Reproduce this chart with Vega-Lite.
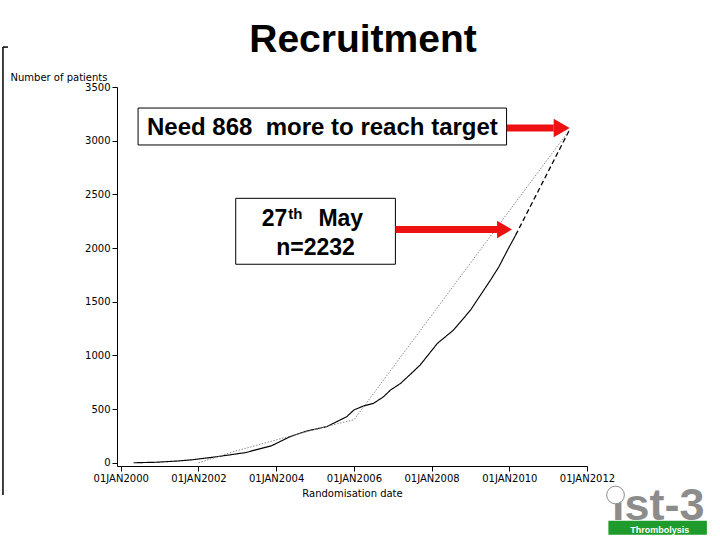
{
  "$schema": "https://vega.github.io/schema/vega-lite/v6.json",
  "width": 470,
  "height": 379,
  "autosize": {"type": "none"},
  "padding": {"left": 117, "top": 87, "right": 133, "bottom": 74},
  "background": "white",
  "data": {"values": [{}]},
  "title": {
    "text": "Recruitment",
    "font": "Liberation Sans",
    "fontSize": 39,
    "fontWeight": "bold",
    "color": "black",
    "anchor": "middle",
    "frame": "group",
    "baseline": "alphabetic",
    "offset": -45,
    "dx": 11
  },
  "config": {
    "view": {"stroke": null},
    "axis": {
      "grid": false,
      "domainColor": "black",
      "tickColor": "black",
      "labelColor": "black",
      "titleColor": "black",
      "labelFont": "DejaVu Sans",
      "labelFontSize": 10,
      "titleFont": "DejaVu Sans",
      "titleFontSize": 10,
      "titleFontWeight": "normal",
      "tickSize": 5
    }
  },
  "datasets": {
    "recruit": [
      {"date": "2000-05-01", "value": 0, "series": "Actual"},
      {"date": "2000-12-01", "value": 5, "series": "Actual"},
      {"date": "2001-06-25", "value": 17, "series": "Actual"},
      {"date": "2001-11-15", "value": 29, "series": "Actual"},
      {"date": "2002-06-05", "value": 54, "series": "Actual"},
      {"date": "2003-03-15", "value": 94, "series": "Actual"},
      {"date": "2003-11-20", "value": 159, "series": "Actual"},
      {"date": "2004-05-10", "value": 243, "series": "Actual"},
      {"date": "2004-10-15", "value": 296, "series": "Actual"},
      {"date": "2005-04-20", "value": 336, "series": "Actual"},
      {"date": "2005-10-25", "value": 429, "series": "Actual"},
      {"date": "2006-01-01", "value": 492, "series": "Actual"},
      {"date": "2006-04-01", "value": 529, "series": "Actual"},
      {"date": "2006-07-05", "value": 554, "series": "Actual"},
      {"date": "2006-10-08", "value": 616, "series": "Actual"},
      {"date": "2006-12-10", "value": 677, "series": "Actual"},
      {"date": "2007-03-15", "value": 739, "series": "Actual"},
      {"date": "2007-06-18", "value": 826, "series": "Actual"},
      {"date": "2007-09-15", "value": 910, "series": "Actual"},
      {"date": "2008-02-25", "value": 1112, "series": "Actual"},
      {"date": "2008-07-25", "value": 1236, "series": "Actual"},
      {"date": "2009-01-01", "value": 1422, "series": "Actual"},
      {"date": "2009-04-05", "value": 1562, "series": "Actual"},
      {"date": "2009-07-08", "value": 1702, "series": "Actual"},
      {"date": "2009-09-25", "value": 1826, "series": "Actual"},
      {"date": "2009-12-15", "value": 1981, "series": "Actual"},
      {"date": "2010-03-01", "value": 2120, "series": "Actual"},
      {"date": "2010-03-01", "value": 2120, "series": "Projected"},
      {"date": "2011-07-20", "value": 3100, "series": "Projected"},
      {"date": "2002-01-01", "value": 0, "series": "Target"},
      {"date": "2002-12-01", "value": 105, "series": "Target"},
      {"date": "2004-01-05", "value": 214, "series": "Target"},
      {"date": "2005-04-20", "value": 339, "series": "Target"},
      {"date": "2006-01-01", "value": 400, "series": "Target"},
      {"date": "2011-07-20", "value": 3100, "series": "Target"}
    ]
  },
  "layer": [
    {
      "data": {"name": "recruit"},
      "mark": {"type": "line"},
      "encoding": {
        "x": {
          "field": "date",
          "type": "temporal",
          "scale": {
            "type": "utc",
            "nice": false,
            "domain": [
              {"year": 1999, "month": "nov", "date": 27, "utc": true},
              {"year": 2012, "month": "jan", "date": 1, "utc": true}
            ]
          },
          "axis": {
            "title": "Randomisation date",
            "tickCount": {"interval": "year", "step": 2},
            "labelExpr": "upper(utcFormat(datum.value, '%d%b%Y'))",
            "labelPadding": 2,
            "labelFlush": false,
            "labelOverlap": false,
            "titlePadding": 5
          }
        },
        "y": {
          "field": "value",
          "type": "quantitative",
          "scale": {"domain": [-30, 3500], "nice": false, "zero": false},
          "axis": {
            "values": [0, 500, 1000, 1500, 2000, 2500, 3000, 3500],
            "format": "d",
            "labelPadding": 2,
            "title": "Number of patients",
            "titleAngle": 0,
            "titleAlign": "left",
            "titleBaseline": "alphabetic",
            "titleX": -107,
            "titleY": -7
          }
        },
        "color": {
          "field": "series",
          "type": "nominal",
          "scale": {"domain": ["Target", "Actual", "Projected"], "range": ["#8a8a8a", "black", "black"]},
          "legend": null
        },
        "strokeDash": {
          "field": "series",
          "type": "nominal",
          "scale": {"domain": ["Target", "Actual", "Projected"], "range": [[1.5, 1.5], [1, 0], [5, 3]]},
          "legend": null
        },
        "strokeWidth": {
          "field": "series",
          "type": "nominal",
          "scale": {"domain": ["Target", "Actual", "Projected"], "range": [1, 1.3, 2]},
          "legend": null
        },
        "order": {"field": "date", "type": "temporal"}
      }
    },
    {
      "mark": {"type": "rect", "fill": "white", "stroke": "black", "strokeWidth": 1},
      "encoding": {
        "x": {"datum": {"year": 2000, "month": "jun", "date": 12, "utc": true}, "type": "temporal"},
        "x2": {"datum": {"year": 2009, "month": "dec", "date": 6, "utc": true}},
        "y": {"datum": 3304, "type": "quantitative"},
        "y2": {"datum": 2960}
      }
    },
    {
      "mark": {"type": "text", "text": "Need 868\u00a0 more to reach target", "font": "Liberation Sans", "fontSize": 24, "fontWeight": "bold", "color": "black", "align": "center", "baseline": "alphabetic"},
      "encoding": {
        "x": {"datum": {"year": 2005, "month": "mar", "date": 11, "utc": true}, "type": "temporal"},
        "y": {"datum": 3050, "type": "quantitative"}
      }
    },
    {
      "mark": {"type": "rect", "fill": "white", "stroke": "black", "strokeWidth": 1},
      "encoding": {
        "x": {"datum": {"year": 2002, "month": "dec", "date": 17, "utc": true}, "type": "temporal"},
        "x2": {"datum": {"year": 2007, "month": "jan", "date": 26, "utc": true}},
        "y": {"datum": 2463, "type": "quantitative"},
        "y2": {"datum": 1849}
      }
    },
    {
      "mark": {"type": "text", "text": "27", "font": "Liberation Sans", "fontSize": 23, "fontWeight": "bold", "color": "black", "align": "right", "baseline": "alphabetic"},
      "encoding": {
        "x": {"datum": {"year": 2004, "month": "apr", "date": 15, "utc": true}, "type": "temporal"},
        "y": {"datum": 2205, "type": "quantitative"}
      }
    },
    {
      "mark": {"type": "text", "text": "th", "font": "Liberation Sans", "fontSize": 15, "fontWeight": "bold", "color": "black", "align": "left", "baseline": "alphabetic"},
      "encoding": {
        "x": {"datum": {"year": 2004, "month": "apr", "date": 24, "utc": true}, "type": "temporal"},
        "y": {"datum": 2270, "type": "quantitative"}
      }
    },
    {
      "mark": {"type": "text", "text": "May", "font": "Liberation Sans", "fontSize": 23, "fontWeight": "bold", "color": "black", "align": "left", "baseline": "alphabetic"},
      "encoding": {
        "x": {"datum": {"year": 2005, "month": "feb", "date": 1, "utc": true}, "type": "temporal"},
        "y": {"datum": 2205, "type": "quantitative"}
      }
    },
    {
      "mark": {"type": "text", "text": "n=2232", "font": "Liberation Sans", "fontSize": 23, "fontWeight": "bold", "color": "black", "align": "center", "baseline": "alphabetic"},
      "encoding": {
        "x": {"datum": {"year": 2005, "month": "jan", "date": 5, "utc": true}, "type": "temporal"},
        "y": {"datum": 1935, "type": "quantitative"}
      }
    },
    {
      "mark": {"type": "rule", "color": "#ee1111", "strokeWidth": 7},
      "encoding": {
        "x": {"datum": {"year": 2009, "month": "dec", "date": 8, "utc": true}, "type": "temporal"},
        "x2": {"datum": {"year": 2011, "month": "feb", "date": 22, "utc": true}},
        "y": {"datum": 3118, "type": "quantitative"}
      }
    },
    {
      "mark": {"type": "point", "shape": "triangle-right", "filled": true, "color": "#ee1111", "opacity": 1, "size": 340},
      "encoding": {
        "x": {"datum": {"year": 2011, "month": "may", "date": 8, "utc": true}, "type": "temporal"},
        "y": {"datum": 3118, "type": "quantitative"}
      }
    },
    {
      "mark": {"type": "rule", "color": "#ee1111", "strokeWidth": 7},
      "encoding": {
        "x": {"datum": {"year": 2007, "month": "jan", "date": 26, "utc": true}, "type": "temporal"},
        "x2": {"datum": {"year": 2009, "month": "sep", "date": 12, "utc": true}},
        "y": {"datum": 2173, "type": "quantitative"}
      }
    },
    {
      "mark": {"type": "point", "shape": "triangle-right", "filled": true, "color": "#ee1111", "opacity": 1, "size": 300},
      "encoding": {
        "x": {"datum": {"year": 2009, "month": "nov", "date": 17, "utc": true}, "type": "temporal"},
        "y": {"datum": 2173, "type": "quantitative"}
      }
    },
    {
      "mark": {"type": "rule", "color": "black", "strokeWidth": 1.5},
      "encoding": {
        "x": {"datum": {"year": 1996, "month": "dec", "date": 20, "utc": true}, "type": "temporal"},
        "y": {"datum": 3872, "type": "quantitative"},
        "y2": {"datum": -300}
      }
    },
    {
      "mark": {"type": "rule", "color": "black", "strokeWidth": 1.5},
      "encoding": {
        "x": {"datum": {"year": 1996, "month": "dec", "date": 20, "utc": true}, "type": "temporal"},
        "x2": {"datum": {"year": 1997, "month": "feb", "date": 5, "utc": true}},
        "y": {"datum": 3872, "type": "quantitative"}
      }
    },
    {
      "mark": {"type": "rect", "fill": "#1f9a2c"},
      "encoding": {
        "x": {"datum": {"year": 2012, "month": "jul", "date": 20, "utc": true}, "type": "temporal"},
        "x2": {"datum": {"year": 2015, "month": "feb", "date": 1, "utc": true}},
        "y": {"datum": -540, "type": "quantitative"},
        "y2": {"datum": -670}
      }
    },
    {
      "mark": {"type": "text", "text": "ist-3", "font": "Liberation Sans", "fontSize": 45, "fontWeight": "bold", "color": "#8c8c8c", "align": "center", "baseline": "alphabetic"},
      "encoding": {
        "x": {"datum": {"year": 2013, "month": "nov", "date": 1, "utc": true}, "type": "temporal"},
        "y": {"datum": -533, "type": "quantitative"}
      }
    },
    {
      "mark": {"type": "text", "text": "Thrombolysis", "font": "Liberation Sans", "fontSize": 9, "fontWeight": "bold", "color": "white", "align": "center", "baseline": "alphabetic"},
      "encoding": {
        "x": {"datum": {"year": 2013, "month": "nov", "date": 15, "utc": true}, "type": "temporal"},
        "y": {"datum": -652, "type": "quantitative"}
      }
    },
    {
      "mark": {"type": "point", "shape": "circle", "filled": true, "fill": "white", "stroke": "#8c8c8c", "strokeWidth": 1, "opacity": 1, "size": 314},
      "encoding": {
        "x": {"datum": {"year": 2012, "month": "sep", "date": 25, "utc": true}, "type": "temporal"},
        "y": {"datum": -300, "type": "quantitative"}
      }
    }
  ]
}
